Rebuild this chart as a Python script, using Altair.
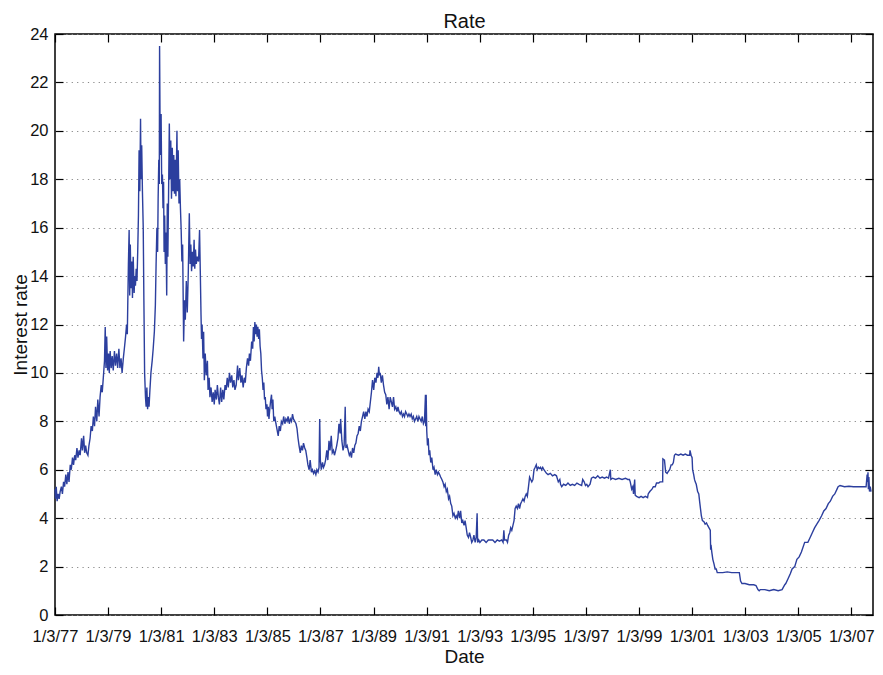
import altair as alt
import pandas as pd

# ---- data (date, interest rate %) ----
rate_1977_1978 = [
    ("1977-01-03", 5.2), ("1977-01-10", 4.8), ("1977-01-20", 5.3), ("1977-02-01", 4.7),
    ("1977-02-15", 5.0), ("1977-03-01", 4.8), ("1977-03-15", 5.1), ("1977-04-01", 5.3),
    ("1977-04-15", 5.0), ("1977-05-01", 5.5), ("1977-05-15", 5.3), ("1977-06-01", 5.8),
    ("1977-06-15", 5.4), ("1977-07-01", 5.9), ("1977-07-15", 5.5), ("1977-08-01", 6.2),
    ("1977-08-15", 6.0), ("1977-09-01", 6.5), ("1977-09-15", 6.2), ("1977-10-01", 6.6),
    ("1977-10-15", 6.4), ("1977-11-01", 6.9), ("1977-11-15", 6.5), ("1977-12-01", 6.8),
    ("1977-12-15", 6.6), ("1978-01-03", 7.3), ("1978-01-15", 6.8), ("1978-02-01", 7.4),
    ("1978-02-15", 6.7), ("1978-03-01", 7.0), ("1978-03-15", 6.7), ("1978-04-01", 6.6),
    ("1978-04-15", 7.0), ("1978-05-01", 7.3), ("1978-05-15", 7.8), ("1978-06-01", 7.6),
    ("1978-06-15", 8.2), ("1978-07-01", 7.8), ("1978-07-15", 8.6), ("1978-08-01", 8.0),
    ("1978-08-15", 8.9), ("1978-09-01", 8.2), ("1978-09-15", 9.0), ("1978-10-01", 9.5),
    ("1978-10-15", 9.2), ("1978-11-01", 9.9), ("1978-11-15", 10.5), ("1978-11-25", 11.9),
    ("1978-12-05", 10.2), ("1978-12-15", 11.5), ("1978-12-28", 10.1),
]

rate_1979_1980 = [
    ("1979-01-10", 10.8), ("1979-01-20", 10.0), ("1979-02-01", 10.9), ("1979-02-15", 10.2),
    ("1979-03-01", 10.7), ("1979-03-15", 10.1), ("1979-04-01", 10.9), ("1979-04-15", 10.3),
    ("1979-05-01", 10.8), ("1979-05-15", 10.2), ("1979-06-01", 11.0), ("1979-06-15", 10.2),
    ("1979-07-01", 10.6), ("1979-07-15", 10.0), ("1979-08-01", 10.6), ("1979-08-15", 11.0),
    ("1979-09-01", 11.5), ("1979-09-15", 12.0), ("1979-09-25", 11.6), ("1979-10-01", 12.8),
    ("1979-10-10", 14.5), ("1979-10-20", 15.9), ("1979-10-28", 13.2), ("1979-11-05", 15.3),
    ("1979-11-15", 13.5), ("1979-11-25", 14.6), ("1979-12-05", 13.1), ("1979-12-15", 14.8),
    ("1979-12-28", 13.3), ("1980-01-05", 14.0), ("1980-01-15", 13.6), ("1980-01-25", 14.3),
    ("1980-02-05", 13.8), ("1980-02-15", 15.0), ("1980-02-25", 16.5), ("1980-03-05", 19.2),
    ("1980-03-15", 17.5), ("1980-03-25", 20.5), ("1980-04-01", 18.0), ("1980-04-10", 19.4),
    ("1980-04-20", 17.5), ("1980-05-01", 16.0), ("1980-05-10", 13.0), ("1980-05-20", 10.0),
    ("1980-06-01", 9.0), ("1980-06-10", 8.6), ("1980-06-20", 9.4), ("1980-06-30", 8.5),
    ("1980-07-10", 9.0), ("1980-07-20", 8.6), ("1980-08-01", 9.3), ("1980-08-15", 10.0),
    ("1980-09-01", 10.5), ("1980-09-15", 11.0), ("1980-10-01", 11.7), ("1980-10-15", 12.8),
    ("1980-10-25", 14.5), ("1980-11-05", 16.0), ("1980-11-15", 15.0), ("1980-11-22", 17.2),
    ("1980-12-01", 18.8), ("1980-12-08", 17.8), ("1980-12-12", 23.5), ("1980-12-18", 20.5),
    ("1980-12-24", 19.0),
]

rate_1981_1984 = [
    ("1981-01-02", 20.7), ("1981-01-10", 17.8), ("1981-01-20", 18.2), ("1981-01-28", 16.8),
    ("1981-02-05", 17.9), ("1981-02-12", 15.0), ("1981-02-20", 16.5), ("1981-03-01", 14.5),
    ("1981-03-10", 15.8), ("1981-03-20", 13.2), ("1981-03-28", 17.0), ("1981-04-05", 14.8),
    ("1981-04-15", 17.5), ("1981-04-25", 20.3), ("1981-05-05", 18.0), ("1981-05-15", 19.6),
    ("1981-05-25", 17.2), ("1981-06-05", 19.3), ("1981-06-15", 17.5), ("1981-06-25", 19.0),
    ("1981-07-05", 17.4), ("1981-07-15", 18.8), ("1981-07-25", 17.3), ("1981-08-08", 20.0),
    ("1981-08-15", 17.5), ("1981-08-25", 19.2), ("1981-09-05", 17.0), ("1981-09-15", 18.0),
    ("1981-09-25", 16.8), ("1981-10-05", 15.9), ("1981-10-15", 14.6), ("1981-10-25", 15.3),
    ("1981-11-08", 11.3), ("1981-11-20", 13.0), ("1981-12-01", 12.2), ("1981-12-15", 13.8),
    ("1981-12-28", 12.5), ("1982-01-10", 14.0), ("1982-01-25", 16.6), ("1982-02-05", 14.5),
    ("1982-02-15", 15.3), ("1982-02-25", 14.2), ("1982-03-10", 15.0), ("1982-03-20", 14.4),
    ("1982-04-01", 15.5), ("1982-04-10", 14.3), ("1982-04-20", 15.1), ("1982-05-01", 14.5),
    ("1982-05-15", 14.8), ("1982-06-01", 14.6), ("1982-06-15", 15.9), ("1982-06-25", 14.2),
    ("1982-07-05", 12.4), ("1982-07-12", 11.4), ("1982-07-20", 12.0), ("1982-08-01", 10.6),
    ("1982-08-10", 11.7), ("1982-08-20", 9.7), ("1982-09-01", 10.8), ("1982-09-15", 9.9),
    ("1982-10-01", 10.5), ("1982-10-10", 9.3), ("1982-10-25", 9.8), ("1982-11-05", 9.0),
    ("1982-11-20", 9.4), ("1982-12-05", 8.8), ("1982-12-20", 9.2), ("1983-01-03", 8.7),
    ("1983-01-15", 9.3), ("1983-02-01", 8.9), ("1983-02-15", 9.5), ("1983-03-01", 9.0),
    ("1983-03-15", 8.7), ("1983-04-01", 9.4), ("1983-04-15", 8.8), ("1983-05-01", 9.3),
    ("1983-05-15", 8.9), ("1983-06-01", 9.5), ("1983-06-15", 9.3), ("1983-07-01", 9.8),
    ("1983-07-15", 9.4), ("1983-08-01", 10.0), ("1983-08-15", 9.6), ("1983-09-01", 9.9),
    ("1983-09-15", 9.4), ("1983-10-01", 9.7), ("1983-10-15", 9.3), ("1983-11-01", 9.5),
    ("1983-11-20", 10.3), ("1983-12-01", 9.7), ("1983-12-20", 10.2), ("1984-01-05", 9.6),
    ("1984-01-20", 9.9), ("1984-02-05", 9.4), ("1984-02-20", 9.8), ("1984-03-05", 9.6),
    ("1984-03-20", 10.2), ("1984-04-05", 10.6), ("1984-04-20", 10.3), ("1984-05-01", 10.8),
    ("1984-05-15", 10.5), ("1984-06-01", 11.3), ("1984-06-15", 11.0), ("1984-06-25", 11.9),
    ("1984-07-05", 11.3), ("1984-07-15", 12.1), ("1984-07-25", 11.6), ("1984-08-05", 12.0),
    ("1984-08-15", 11.5), ("1984-08-25", 11.9), ("1984-09-05", 11.4), ("1984-09-15", 11.8),
    ("1984-09-25", 11.1), ("1984-10-05", 10.8), ("1984-10-15", 10.1), ("1984-10-25", 9.8),
    ("1984-11-05", 9.3), ("1984-11-15", 9.6), ("1984-11-25", 8.9), ("1984-12-05", 9.0),
    ("1984-12-15", 8.5), ("1984-12-28", 8.7),
]

rate_1985_1990 = [
    ("1985-01-05", 8.2), ("1985-01-15", 8.6), ("1985-01-25", 8.1), ("1985-02-05", 8.5),
    ("1985-02-15", 8.8), ("1985-03-01", 9.1), ("1985-03-10", 8.5), ("1985-03-20", 8.9),
    ("1985-04-01", 8.0), ("1985-04-15", 8.2), ("1985-05-01", 7.9), ("1985-05-20", 7.6),
    ("1985-06-01", 7.4), ("1985-06-15", 7.8), ("1985-07-01", 7.6), ("1985-07-15", 8.0),
    ("1985-08-01", 7.9), ("1985-08-15", 8.2), ("1985-09-01", 7.9), ("1985-09-15", 8.1),
    ("1985-10-01", 8.0), ("1985-10-15", 8.2), ("1985-11-01", 7.9), ("1985-11-15", 8.1),
    ("1985-12-01", 8.0), ("1985-12-15", 8.3), ("1985-12-28", 8.1), ("1986-01-15", 8.0),
    ("1986-02-01", 7.9), ("1986-02-15", 7.7), ("1986-03-01", 7.3), ("1986-03-15", 7.0),
    ("1986-04-01", 6.7), ("1986-04-15", 7.0), ("1986-05-01", 6.8), ("1986-05-15", 7.1),
    ("1986-06-01", 6.9), ("1986-06-15", 6.8), ("1986-07-01", 6.5), ("1986-07-15", 6.2),
    ("1986-08-01", 6.0), ("1986-08-15", 6.4), ("1986-09-01", 5.9), ("1986-09-15", 6.0),
    ("1986-10-01", 5.85), ("1986-10-15", 5.95), ("1986-11-01", 5.8), ("1986-11-15", 6.0),
    ("1986-12-01", 5.9), ("1986-12-15", 6.1), ("1986-12-24", 8.1), ("1987-01-02", 6.4),
    ("1987-01-15", 6.0), ("1987-02-01", 6.3), ("1987-02-15", 6.1), ("1987-03-01", 6.2),
    ("1987-03-15", 6.4), ("1987-04-01", 6.8), ("1987-04-15", 6.4), ("1987-05-01", 7.2),
    ("1987-05-15", 6.8), ("1987-06-01", 7.4), ("1987-06-15", 6.7), ("1987-07-01", 6.8),
    ("1987-07-15", 6.6), ("1987-08-01", 6.8), ("1987-08-15", 7.0), ("1987-09-01", 7.3),
    ("1987-09-15", 7.9), ("1987-10-01", 7.5), ("1987-10-08", 8.1), ("1987-10-25", 7.2),
    ("1987-11-10", 6.8), ("1987-11-25", 7.0), ("1987-12-10", 8.6), ("1987-12-20", 6.9),
    ("1988-01-05", 7.0), ("1988-01-20", 6.8), ("1988-02-05", 6.6), ("1988-02-20", 6.7),
    ("1988-03-05", 6.5), ("1988-03-20", 6.9), ("1988-04-05", 6.7), ("1988-04-20", 7.0),
    ("1988-05-05", 7.1), ("1988-05-20", 7.4), ("1988-06-05", 7.5), ("1988-06-20", 7.8),
    ("1988-07-05", 7.6), ("1988-07-20", 8.0), ("1988-08-05", 8.2), ("1988-08-20", 8.4),
    ("1988-09-05", 8.1), ("1988-09-20", 8.4), ("1988-10-05", 8.2), ("1988-10-20", 8.5),
    ("1988-11-05", 8.4), ("1988-11-20", 8.8), ("1988-12-05", 9.2), ("1988-12-20", 9.7),
    ("1989-01-05", 9.3), ("1989-01-20", 9.8), ("1989-02-05", 9.6), ("1989-02-20", 10.0),
    ("1989-03-05", 9.8), ("1989-03-15", 10.25), ("1989-03-25", 9.9), ("1989-04-05", 10.0),
    ("1989-04-20", 9.6), ("1989-05-05", 9.9), ("1989-05-20", 9.5), ("1989-06-05", 9.2),
    ("1989-06-20", 9.1), ("1989-07-05", 8.7), ("1989-07-20", 9.0), ("1989-08-05", 8.5),
    ("1989-08-20", 9.0), ("1989-09-05", 8.8), ("1989-09-20", 8.6), ("1989-10-05", 9.0),
    ("1989-10-20", 8.5), ("1989-11-05", 8.6), ("1989-11-20", 8.4), ("1989-12-05", 8.6),
    ("1989-12-20", 8.4), ("1990-01-05", 8.3), ("1990-01-20", 8.4), ("1990-02-05", 8.2),
    ("1990-02-20", 8.3), ("1990-03-05", 8.2), ("1990-03-20", 8.4), ("1990-04-05", 8.3),
    ("1990-04-20", 8.2), ("1990-05-05", 8.3), ("1990-05-20", 8.2), ("1990-06-05", 8.3),
    ("1990-06-20", 8.1), ("1990-07-05", 8.2), ("1990-07-20", 8.0), ("1990-08-05", 8.1),
    ("1990-08-20", 8.2), ("1990-09-05", 8.0), ("1990-09-20", 8.2), ("1990-10-05", 8.1),
    ("1990-10-20", 8.0), ("1990-11-05", 8.2), ("1990-11-20", 7.9), ("1990-12-05", 8.0),
    ("1990-12-18", 9.1), ("1990-12-22", 7.8), ("1990-12-28", 9.1),
]

rate_1991_1997 = [
    ("1991-01-05", 7.6), ("1991-01-15", 7.0), ("1991-01-25", 7.3), ("1991-02-05", 6.6),
    ("1991-02-15", 6.8), ("1991-03-01", 6.3), ("1991-03-15", 6.5), ("1991-04-01", 6.0),
    ("1991-04-15", 6.1), ("1991-05-01", 5.8), ("1991-05-15", 6.0), ("1991-06-01", 5.8),
    ("1991-06-15", 5.9), ("1991-07-01", 5.8), ("1991-07-15", 5.7), ("1991-08-01", 5.6),
    ("1991-08-15", 5.5), ("1991-09-01", 5.3), ("1991-09-15", 5.4), ("1991-10-01", 5.1),
    ("1991-10-15", 5.2), ("1991-11-01", 4.8), ("1991-11-15", 4.9), ("1991-12-01", 4.6),
    ("1991-12-15", 4.5), ("1991-12-31", 4.1), ("1992-01-15", 4.2), ("1992-02-01", 4.0),
    ("1992-02-15", 4.1), ("1992-03-01", 4.0), ("1992-03-15", 4.3), ("1992-04-01", 4.0),
    ("1992-04-15", 4.3), ("1992-05-01", 3.8), ("1992-05-15", 3.9), ("1992-06-01", 3.7),
    ("1992-06-15", 3.9), ("1992-07-01", 3.6), ("1992-07-15", 3.3), ("1992-08-01", 3.2),
    ("1992-08-15", 3.4), ("1992-09-01", 3.2), ("1992-09-15", 3.0), ("1992-10-01", 3.1),
    ("1992-10-15", 3.3), ("1992-11-01", 3.0), ("1992-11-15", 3.2), ("1992-11-28", 4.2),
    ("1992-12-05", 3.0), ("1992-12-20", 3.1), ("1993-01-05", 3.0), ("1993-02-01", 3.1),
    ("1993-03-01", 3.1), ("1993-04-01", 3.0), ("1993-05-01", 3.1), ("1993-06-01", 3.1),
    ("1993-07-01", 3.1), ("1993-08-01", 3.0), ("1993-09-01", 3.1), ("1993-10-01", 3.05),
    ("1993-11-01", 3.1), ("1993-11-20", 3.0), ("1993-12-01", 3.5), ("1993-12-10", 3.1),
    ("1994-01-05", 3.1), ("1994-01-20", 3.0), ("1994-02-05", 3.3), ("1994-02-20", 3.4),
    ("1994-03-05", 3.6), ("1994-03-20", 3.5), ("1994-04-05", 3.7), ("1994-04-20", 3.9),
    ("1994-05-05", 4.4), ("1994-05-20", 4.5), ("1994-06-05", 4.4), ("1994-06-20", 4.6),
    ("1994-07-05", 4.4), ("1994-07-20", 4.6), ("1994-08-05", 4.7), ("1994-08-20", 4.8),
    ("1994-09-05", 4.7), ("1994-09-20", 4.9), ("1994-10-05", 5.0), ("1994-10-20", 4.9),
    ("1994-11-05", 5.3), ("1994-11-20", 5.7), ("1994-12-05", 5.6), ("1994-12-20", 5.5),
    ("1995-01-05", 5.6), ("1995-01-20", 6.0), ("1995-02-05", 6.1), ("1995-02-20", 6.2),
    ("1995-03-05", 6.0), ("1995-03-20", 6.1), ("1995-04-05", 6.05), ("1995-04-20", 6.1),
    ("1995-05-05", 6.0), ("1995-05-20", 6.1), ("1995-06-05", 6.0), ("1995-07-10", 5.85),
    ("1995-08-01", 5.8), ("1995-09-01", 5.85), ("1995-10-01", 5.75), ("1995-11-01", 5.8),
    ("1995-11-25", 5.75), ("1995-12-20", 5.5), ("1996-01-10", 5.6), ("1996-01-20", 5.4),
    ("1996-02-05", 5.3), ("1996-03-01", 5.4), ("1996-04-01", 5.35), ("1996-05-01", 5.45),
    ("1996-06-01", 5.35), ("1996-07-01", 5.4), ("1996-08-01", 5.35), ("1996-09-01", 5.45),
    ("1996-10-01", 5.4), ("1996-11-05", 5.35), ("1996-11-20", 5.6), ("1996-12-10", 5.5),
    ("1996-12-28", 5.35), ("1997-01-15", 5.4), ("1997-02-01", 5.3), ("1997-03-01", 5.4),
    ("1997-03-20", 5.65), ("1997-04-15", 5.7), ("1997-05-15", 5.65), ("1997-06-15", 5.75),
    ("1997-07-15", 5.65), ("1997-08-15", 5.7), ("1997-09-15", 5.65), ("1997-10-15", 5.7),
    ("1997-11-10", 5.65), ("1997-12-05", 6.0), ("1997-12-12", 5.6),
]

rate_1998_2007 = [
    ("1998-01-05", 5.65), ("1998-02-15", 5.6), ("1998-04-01", 5.65), ("1998-05-15", 5.6),
    ("1998-07-01", 5.65), ("1998-08-01", 5.6), ("1998-08-25", 5.6), ("1998-09-05", 5.5),
    ("1998-09-25", 5.2), ("1998-10-10", 5.3), ("1998-10-20", 5.0), ("1998-11-05", 5.6),
    ("1998-11-12", 4.95), ("1998-12-01", 4.9), ("1999-01-05", 4.85), ("1999-02-01", 4.9),
    ("1999-03-01", 4.85), ("1999-04-01", 4.9), ("1999-05-01", 4.85), ("1999-05-10", 5.0),
    ("1999-06-01", 5.1), ("1999-07-01", 5.2), ("1999-07-20", 5.3), ("1999-08-15", 5.3),
    ("1999-09-01", 5.45), ("1999-10-01", 5.45), ("1999-10-20", 5.5), ("1999-11-25", 5.5),
    ("1999-11-28", 6.45), ("1999-12-20", 6.4), ("2000-01-05", 5.9), ("2000-01-25", 5.85),
    ("2000-02-15", 5.95), ("2000-03-01", 6.0), ("2000-03-20", 6.2), ("2000-04-05", 6.2),
    ("2000-04-20", 6.3), ("2000-05-05", 6.6), ("2000-05-20", 6.65), ("2000-07-01", 6.6),
    ("2000-08-01", 6.65), ("2000-09-01", 6.6), ("2000-10-01", 6.65), ("2000-11-01", 6.6),
    ("2000-12-01", 6.6), ("2000-12-05", 6.8), ("2000-12-20", 6.6), ("2001-01-03", 6.5),
    ("2001-01-10", 6.0), ("2001-01-25", 5.8), ("2001-02-05", 5.6), ("2001-02-15", 5.5),
    ("2001-03-01", 5.4), ("2001-03-20", 5.1), ("2001-04-05", 5.0), ("2001-04-20", 4.6),
    ("2001-05-10", 4.1), ("2001-05-25", 3.9), ("2001-06-15", 3.85), ("2001-07-01", 3.75),
    ("2001-07-20", 3.8), ("2001-08-05", 3.7), ("2001-09-10", 3.5), ("2001-09-15", 2.7),
    ("2001-09-20", 2.9), ("2001-10-01", 2.6), ("2001-10-15", 2.3), ("2001-11-01", 2.1),
    ("2001-11-15", 1.9), ("2001-12-01", 1.9), ("2001-12-15", 1.75), ("2002-01-05", 1.75),
    ("2002-03-01", 1.75), ("2002-05-01", 1.78), ("2002-07-01", 1.75), ("2002-09-01", 1.75),
    ("2002-10-15", 1.75), ("2002-11-01", 1.4), ("2002-11-20", 1.3), ("2003-01-01", 1.3),
    ("2003-03-01", 1.25), ("2003-05-01", 1.25), ("2003-06-01", 1.22), ("2003-06-28", 1.05),
    ("2003-07-15", 1.0), ("2003-08-01", 1.05), ("2003-10-01", 1.05), ("2003-12-01", 1.0),
    ("2004-02-01", 1.05), ("2004-04-01", 1.0), ("2004-05-25", 1.05), ("2004-07-01", 1.25),
    ("2004-07-15", 1.3), ("2004-08-15", 1.5), ("2004-09-15", 1.7), ("2004-10-10", 1.9),
    ("2004-11-15", 2.0), ("2004-12-15", 2.3), ("2005-01-15", 2.4), ("2005-02-15", 2.6),
    ("2005-04-01", 3.0), ("2005-05-15", 3.0), ("2005-06-15", 3.2), ("2005-07-15", 3.4),
    ("2005-08-15", 3.6), ("2005-09-15", 3.75), ("2005-10-15", 3.9), ("2005-11-20", 4.1),
    ("2005-12-20", 4.3), ("2006-01-20", 4.4), ("2006-02-20", 4.6), ("2006-03-20", 4.7),
    ("2006-04-20", 4.9), ("2006-05-20", 5.0), ("2006-06-20", 5.2), ("2006-07-05", 5.3),
    ("2006-08-01", 5.35), ("2006-10-01", 5.3), ("2006-12-01", 5.32), ("2007-02-01", 5.3),
    ("2007-04-01", 5.3), ("2007-06-01", 5.3), ("2007-07-25", 5.3), ("2007-08-08", 5.8),
    ("2007-08-15", 5.5), ("2007-08-20", 5.9), ("2007-08-25", 5.2), ("2007-09-01", 5.7),
    ("2007-09-10", 5.1), ("2007-09-20", 5.3), ("2007-10-01", 5.1),
]

tick_years = list(range(1977, 2008, 2))
y_ticks = list(range(0, 25, 2))

rows = (rate_1977_1978 + rate_1979_1980 + rate_1981_1984 +
        rate_1985_1990 + rate_1991_1997 + rate_1998_2007)
df = pd.DataFrame(rows, columns=["date", "rate"])
df["date"] = pd.to_datetime(df["date"])

FONT = "Liberation Sans"
LINE = "#2c3f9e"
TXT = "#111111"
INWARD = alt.ExprRef(expr="-8")

x_values = [alt.DateTime(year=y, month=1, date=3) for y in tick_years]
x_scale = alt.Scale(domain=[alt.DateTime(year=1977, month=1, date=3),
                            alt.DateTime(year=2007, month=10, date=28)], nice=False)
y_scale = alt.Scale(domain=[0, 24], nice=False, zero=False)

# main layer: line + tick labels + dotted horizontal grid
main = alt.Chart(df).mark_line(color=LINE, strokeWidth=1.4).encode(
    x=alt.X("date:T", scale=x_scale, axis=alt.Axis(
        orient="bottom", values=x_values, format="%-m/%-d/%y", title="Date",
        ticks=False, tickSize=0, labelPadding=13, domain=False, grid=False,
        labelFlush=False, labelOverlap=False, labelFont=FONT, labelFontSize=16.5,
        labelColor=TXT, titleFont=FONT, titleFontSize=19, titleFontWeight="normal",
        titleColor=TXT, titleY=47, titleBaseline="alphabetic")),
    y=alt.Y("rate:Q", scale=y_scale, axis=alt.Axis(
        orient="left", values=y_ticks, title="Interest rate",
        ticks=False, tickSize=0, labelPadding=7, domain=False, grid=True,
        gridDash=[1.2, 4.2], gridColor="#888888", gridWidth=1,
        labelFont=FONT, labelFontSize=16.5, labelColor=TXT,
        titleFont=FONT, titleFontSize=19, titleFontWeight="normal", titleColor=TXT,
        titleX=-29, titleBaseline="alphabetic")),
)

# inward tick marks on all four sides (and the "Rate" title on the top axis)
ticks_bl = alt.Chart(df).mark_line(strokeOpacity=0).encode(
    x=alt.X("date:T", scale=x_scale, axis=alt.Axis(
        orient="bottom", values=x_values, tickSize=INWARD, tickColor="#000",
        tickWidth=1.2, labels=False, domain=False, grid=False, title=None)),
    y=alt.Y("rate:Q", scale=y_scale, axis=alt.Axis(
        orient="left", values=y_ticks, tickSize=INWARD, tickColor="#000",
        tickWidth=1.2, labels=False, domain=False, grid=False, title=None)),
)

ticks_tr = alt.Chart(df).mark_line(strokeOpacity=0).encode(
    x=alt.X("date:T", scale=x_scale, axis=alt.Axis(
        orient="top", values=x_values, tickSize=INWARD, tickColor="#000",
        tickWidth=1.2, labels=False, domain=False, grid=False,
        title="Rate", titleFont=FONT, titleFontSize=20, titleFontWeight="normal",
        titleColor=TXT, titleY=-7, titleBaseline="alphabetic")),
    y=alt.Y("rate:Q", scale=y_scale, axis=alt.Axis(
        orient="right", values=y_ticks, tickSize=INWARD, tickColor="#000",
        tickWidth=1.2, labels=False, domain=False, grid=False, title=None)),
)

chart = alt.layer(main, ticks_bl, ticks_tr).resolve_axis(
    x="independent", y="independent"
).properties(
    width=818, height=581,
    autosize=alt.AutoSizeParams(type="none"),
    padding={"left": 47, "top": 26, "right": 2, "bottom": 52},
).configure_view(stroke="#000000", strokeWidth=1.5)

chart.save("out.html", embed_options={"renderer": "svg", "actions": False})
